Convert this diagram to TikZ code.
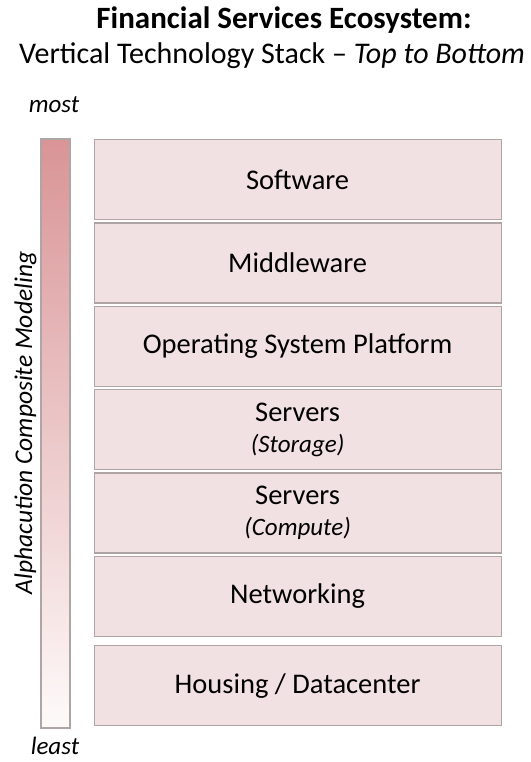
\documentclass[tikz,border=0pt]{standalone}
\usepackage{fontspec}
\setmainfont{Carlito}
\definecolor{boxfill}{RGB}{242,225,226}
\definecolor{boxline}{RGB}{175,165,165}
\definecolor{bartop}{RGB}{217,148,150}
\definecolor{barbot}{RGB}{254,250,250}
\begin{document}
\begin{tikzpicture}[x=1pt,y=1pt,
  layer/.style={draw=boxline,line width=1.2pt,fill=boxfill,minimum width=407pt,minimum height=80pt,inner sep=0pt,align=center,font=\fontsize{28.5}{32}\selectfont,anchor=north west},
  sub/.style={font=\fontsize{18}{22}\selectfont\itshape}]
\useasboundingbox (0,0) rectangle (530,-762);
\fill[white] (0,0) rectangle (530,-762);
\node[font=\fontsize{31}{34}\selectfont\bfseries,anchor=base] (title) at (284,-29) {Financial Services Ecosystem:};
\node[font=\fontsize{30}{34}\selectfont,anchor=base] (subtitle) at (272,-64) {Vertical Technology Stack -- \textit{Top to Bottom}};
\node[font=\fontsize{25}{28}\selectfont\itshape,anchor=base] (most) at (54,-113) {most};
\node[font=\fontsize{25}{28}\selectfont\itshape,anchor=base] (least) at (55,-754) {least};
\shade[top color=bartop,bottom color=barbot,draw=boxline,line width=1.2pt] (41,-139) rectangle (70,-728);
\node[rotate=90,anchor=base,font=\fontsize{25.5}{28}\selectfont\itshape] (axis) at (32,-423) {Alphacution Composite Modeling};
\node[layer] (sw) at (93.5,-139) {Software};
\node[layer] (mw) at (93.5,-222.3) {Middleware};
\node[layer] (os) at (93.5,-305.6) {Operating System Platform};
\node[layer] (st) at (93.5,-389) {Servers\\[-1pt]{\fontsize{25}{30}\selectfont\itshape(Storage)}};
\node[layer] (cp) at (93.5,-472.3) {Servers\\[-1pt]{\fontsize{25}{30}\selectfont\itshape(Compute)}};
\node[layer] (nw) at (93.5,-555.6) {Networking};
\node[layer] (hd) at (93.5,-645) {Housing / Datacenter};
\end{tikzpicture}
\end{document}
